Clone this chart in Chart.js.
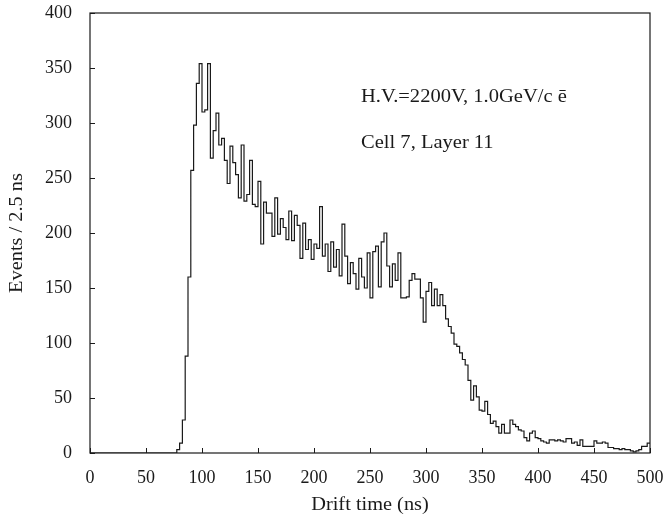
<!DOCTYPE html>
<html>
<head>
<meta charset="utf-8">
<title>Drift time distribution</title>
<script src="https://cdn.jsdelivr.net/npm/chart.js@4.4.1/dist/chart.umd.min.js"></script>
<style>
  html, body { margin: 0; padding: 0; background: #fff; }
  #wrap { width: 668px; height: 521px; }
</style>
</head>
<body>
<div id="wrap"><canvas id="driftChart" width="668" height="521"></canvas></div>
<script>
// events per 2.5 ns bin, 0 - 500 ns
const binWidth = 2.5;
const counts = [
  0, 0, 0, 0, 0, 0, 0, 0, 0, 0,
  0, 0, 0, 0, 0, 0, 0, 0, 0, 0,
  0, 0, 0, 0, 0, 0, 0, 0, 0, 0,
  0, 3, 9, 30, 88, 160, 257, 298, 336, 354,
  310, 312, 354, 268, 293, 309, 280, 286, 266, 245,
  279, 264, 253, 232, 280, 229, 235, 266, 226, 224,
  247, 190, 228, 218, 218, 197, 232, 199, 213, 205,
  194, 220, 193, 216, 207, 177, 209, 185, 194, 176,
  190, 186, 224, 179, 190, 165, 192, 169, 185, 161,
  208, 179, 154, 173, 163, 149, 177, 160, 150, 182,
  141, 183, 188, 151, 192, 200, 170, 151, 172, 157,
  182, 141, 141, 142, 157, 163, 158, 158, 141, 119,
  147, 155, 134, 149, 134, 144, 134, 122, 115, 109,
  99, 97, 91, 85, 80, 66, 48, 61, 51, 39,
  38, 47, 35, 27, 29, 24, 18, 26, 18, 18,
  30, 26, 24, 21, 20, 14, 11, 18, 20, 14,
  13, 11, 10, 9, 12, 12, 11, 12, 11, 10,
  13, 13, 9, 10, 7, 12, 6, 6, 6, 6,
  11, 9, 9, 10, 9, 5, 5, 4, 4, 3,
  4, 3, 3, 2, 1, 2, 3, 6, 6, 9
];
const xTicks = [0, 50, 100, 150, 200, 250, 300, 350, 400, 450, 500];
const yTicks = [0, 50, 100, 150, 200, 250, 300, 350, 400];
const xTitle = 'Drift time (ns)';
const yTitle = 'Events / 2.5 ns';
const noteLines = ['H.V.=2200V, 1.0GeV/c \u0113', 'Cell 7, Layer 11'];

const FONT = '"Liberation Serif", "DejaVu Serif", serif';
const INK = '#1a1a1a';

// bin left edges + closing edge, drawn as a step outline
const points = counts.map((c, i) => ({ x: i * binWidth, y: c }));
points.push({ x: counts.length * binWidth, y: counts[counts.length - 1] });

// text in the original is a bit wider than Liberation Serif
function stretchText(ctx, text, x, y, sx, align) {
  ctx.save();
  ctx.translate(x, y);
  ctx.scale(sx, 1);
  ctx.textAlign = align;
  ctx.fillText(text, 0, 0);
  ctx.restore();
}

// frame, inward ticks, titles and the note text
const framePlugin = {
  id: 'frame',
  afterDraw(chart) {
    const { ctx, chartArea: a, scales: { x, y } } = chart;
    ctx.save();
    ctx.strokeStyle = INK;
    ctx.lineWidth = 1.2;
    ctx.strokeRect(a.left, a.top, a.right - a.left, a.bottom - a.top);

    ctx.lineWidth = 1;
    ctx.beginPath();
    xTicks.forEach(v => {
      const px = Math.round(x.getPixelForValue(v)) + 0.5;
      ctx.moveTo(px, a.bottom); ctx.lineTo(px, a.bottom - 5);
    });
    yTicks.forEach(v => {
      const py = Math.round(y.getPixelForValue(v)) + 0.5;
      ctx.moveTo(a.left, py); ctx.lineTo(a.left + 5, py);
    });
    ctx.stroke();

    ctx.fillStyle = INK;
    ctx.font = '18px ' + FONT;
    ctx.textBaseline = 'middle';
    stretchText(ctx, xTitle, (a.left + a.right) / 2, a.bottom + 52, 1.13, 'center');

    ctx.save();
    ctx.translate(17, (a.top + a.bottom) / 2);
    ctx.rotate(-Math.PI / 2);
    stretchText(ctx, yTitle, 0, 0, 1.13, 'center');
    ctx.restore();

    stretchText(ctx, noteLines[0], x.getPixelForValue(242), y.getPixelForValue(323), 1.14, 'left');
    stretchText(ctx, noteLines[1], x.getPixelForValue(242), y.getPixelForValue(282), 1.14, 'left');
    ctx.restore();
  }
};

new Chart(document.getElementById('driftChart').getContext('2d'), {
  type: 'line',
  data: {
    datasets: [{
      data: points,
      stepped: true,
      borderColor: INK,
      borderWidth: 1.2,
      pointRadius: 0,
      fill: false,
      tension: 0
    }]
  },
  options: {
    responsive: false,
    animation: false,
    layout: { padding: { left: 0, right: 18, top: 13, bottom: 0 } },
    plugins: { legend: { display: false }, tooltip: { enabled: false } },
    scales: {
      x: {
        type: 'linear', min: 0, max: 500,
        afterFit: s => { s.height = 68; s.paddingLeft = 0; s.paddingRight = 0; },
        afterBuildTicks: s => { s.ticks = xTicks.map(v => ({ value: v })); },
        grid: { display: false }, border: { display: false },
        ticks: { padding: 6, color: INK, maxRotation: 0, autoSkip: false, font: { family: FONT, size: 18 } }
      },
      y: {
        min: 0, max: 400,
        afterFit: s => { s.width = 90; s.paddingTop = 0; s.paddingBottom = 0; },
        afterBuildTicks: s => { s.ticks = yTicks.map(v => ({ value: v })); },
        grid: { display: false }, border: { display: false },
        ticks: { padding: 10, color: INK, font: { family: FONT, size: 18 } }
      }
    }
  },
  plugins: [framePlugin]
});
</script>
</body>
</html>
